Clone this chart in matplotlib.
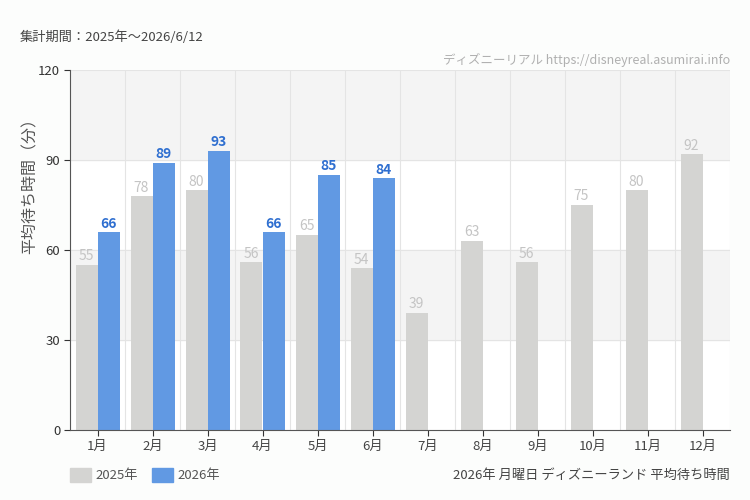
import numpy as np
import matplotlib.pyplot as plt
from matplotlib.patches import Rectangle

plt.rcParams['font.family'] = ['Noto Sans CJK JP', 'DejaVu Sans']

months = ["1月", "2月", "3月", "4月", "5月", "6月", "7月", "8月", "9月", "10月", "11月", "12月"]
vals_2025 = [55, 78, 80, 56, 65, 54, 39, 63, 56, 75, 80, 92]
vals_2026 = [66, 89, 93, 66, 85, 84]
yticks = [0, 30, 60, 90, 120]

c_gray = "#d4d4d2"
c_blue = "#6199e3"
c_blue_txt = "#2f6fd0"
c_gray_txt = "#c4c4c4"
bg = "#fcfdfc"

fig = plt.figure(figsize=(7.5, 5), dpi=100, facecolor=bg)
ax = fig.add_axes([70 / 750, 70 / 500, 660 / 750, 360 / 500])
ax.set_facecolor("white")

# alternating bands
for i in range(len(yticks) - 1):
    if i % 2 == 1:
        ax.axhspan(yticks[i], yticks[i + 1], color="#f4f4f4", zorder=0)
for y in yticks[1:]:
    ax.axhline(y, color="#e4e4e4", lw=0.8, zorder=0.5)

x = np.arange(len(months))
for b in np.arange(len(months) + 1) - 0.5:
    ax.axvline(b, color="#e4e4e4", lw=0.8, zorder=0.5)

w = 0.4
ax.bar(x[:len(vals_2025)] - w / 2, vals_2025, w, color=c_gray, zorder=2)
ax.bar(x[:len(vals_2026)] + w / 2, vals_2026, w, color=c_blue, zorder=2)

for i, v in enumerate(vals_2025):
    ax.text(i - w / 2, v + 0.5, str(v), ha="center", va="bottom", fontsize=10, color=c_gray_txt, zorder=3)
for i, v in enumerate(vals_2026):
    ax.text(i + w / 2, v + 0.5, str(v), ha="center", va="bottom", fontsize=10, color=c_blue_txt,
            fontweight="bold", zorder=3)

ax.set_xlim(-0.5, len(months) - 0.5)
ax.set_ylim(0, 120)
ax.set_xticks(x)
ax.set_xticklabels(months, fontsize=9.5, color="#444444")
ax.set_yticks(yticks)
ax.set_yticklabels([str(t) for t in yticks], fontsize=9.5, color="#333333")
ax.tick_params(axis="both", length=4, color="#333333", pad=3)
for s in ["top", "right"]:
    ax.spines[s].set_visible(False)
ax.spines["left"].set_color("#555555")
ax.spines["bottom"].set_color("#555555")

fig.text(30 / 750, 1 - 182 / 500, "平均待ち時間（分）", fontsize=11.5, color="#555555", rotation=90,
         ha="center", va="center")
fig.text(20 / 750, 1 - 37 / 500, "集計期間：2025年〜2026/6/12", fontsize=9.5, color="#444444", va="center")
fig.text(730 / 750, 1 - 60 / 500, "ディズニーリアル https://disneyreal.asumirai.info", fontsize=9,
         color="#b0b0b0", ha="right", va="center")

# legend
fig.patches.append(Rectangle((70 / 750, 1 - 482 / 500), 21 / 750, 14 / 500, transform=fig.transFigure,
                             color=c_gray, figure=fig))
fig.text(95 / 750, 1 - 476 / 500, "2025年", fontsize=9.5, color="#555555", va="center")
fig.patches.append(Rectangle((152 / 750, 1 - 482 / 500), 21 / 750, 14 / 500, transform=fig.transFigure,
                             color=c_blue, figure=fig))
fig.text(177 / 750, 1 - 476 / 500, "2026年", fontsize=9.5, color="#555555", va="center")
fig.text(730 / 750, 1 - 475 / 500, "2026年 月曜日 ディズニーランド 平均待ち時間", fontsize=9.5, color="#444444",
         ha="right", va="center")

fig.savefig("out.png", dpi=100, facecolor=bg)
